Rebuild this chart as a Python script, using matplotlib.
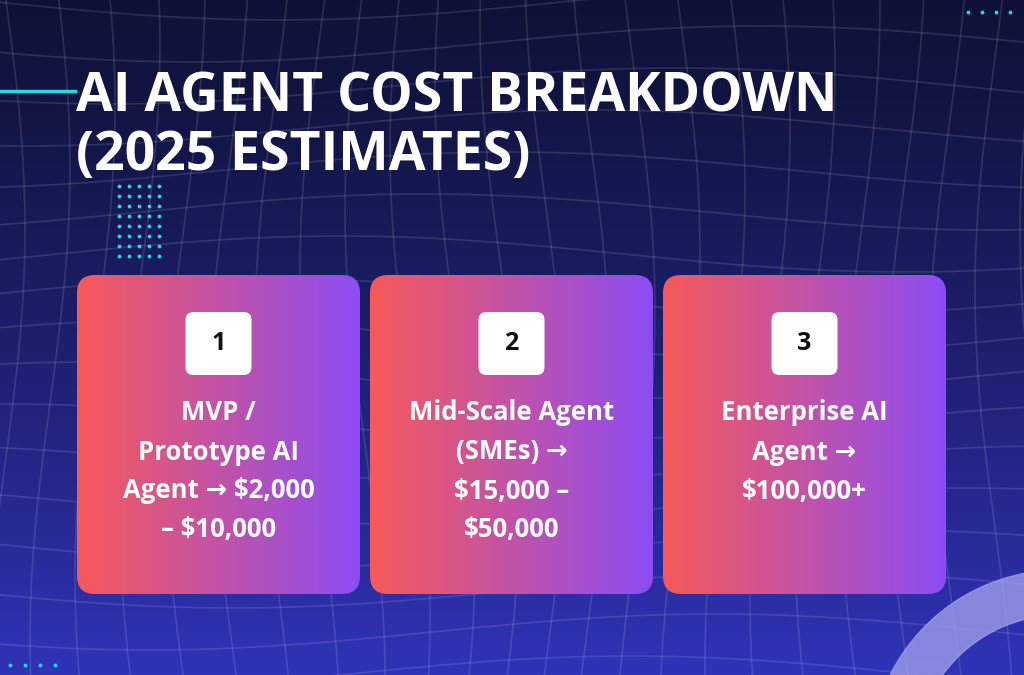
import numpy as np
import matplotlib
matplotlib.use("Agg")
import matplotlib.pyplot as plt
from matplotlib.patches import FancyBboxPatch, Wedge

title_lines = ["AI AGENT COST BREAKDOWN", "(2025 ESTIMATES)"]
card_numbers = ["1", "2", "3"]
card_texts = [
    ["MVP /", "Prototype AI", "Agent \u2192 $2,000", "\u2013 $10,000"],
    ["Mid-Scale Agent", "(SMEs) \u2192", "$15,000 \u2013", "$50,000"],
    ["Enterprise AI", "Agent \u2192", "$100,000+"],
]

W, H = 1024, 675
fig = plt.figure(figsize=(W/100, H/100), dpi=100)
ax = fig.add_axes([0, 0, 1, 1])
ax.set_xlim(0, W); ax.set_ylim(H, 0); ax.axis("off")

t = np.linspace(0, 1, 300)[:, None]
top = np.array([0.06, 0.07, 0.22]); bot = np.array([0.19, 0.20, 0.72])
bg = top + (bot - top) * (t ** 1.3)[:, :, None]
bg = np.repeat(bg, 2, axis=1)
ax.imshow(bg, extent=[0, W, H, 0], aspect="auto", zorder=0)

xs = np.linspace(0, W, 200)
for y0 in np.arange(-40, H + 60, 42):
    ys = y0 + 18*np.sin(xs/180 + y0/90)
    ax.plot(xs, ys, color="white", alpha=0.12, lw=1.2, zorder=1)
yy = np.linspace(0, H, 200)
for x0 in np.arange(-40, W + 60, 45):
    xx = x0 + 20*np.sin(yy/150 + x0/110)
    ax.plot(xx, yy, color="white", alpha=0.12, lw=1.2, zorder=1)

ax.add_patch(Wedge((1060, 760), 190, 150, 280, width=45, color="#9c9ee8", alpha=0.8, zorder=2))

ax.plot([0, 75], [91, 91], color="#19e0e8", lw=2.5, zorder=3)
dx, dy = np.meshgrid(np.arange(119, 161, 10), np.arange(186, 266, 10))
ax.scatter(dx.ravel(), dy.ravel(), s=3, color="#19e0e8", zorder=3)
ax.scatter(np.arange(968, 1012, 14), [12]*4, s=3, color="#19e0e8", zorder=3)
ax.scatter(np.arange(10, 58, 15), [665]*4, s=3, color="#19e0e8", zorder=3)

for i, line in enumerate(title_lines):
    ax.text(76, 98 + i*58, line, color="white", fontsize=38.5, fontweight="bold",
            family="Open Sans", va="center", ha="left", zorder=4)

grad = np.linspace(0, 1, 256)[None, :]
c1 = np.array([0.97, 0.35, 0.35]); c2 = np.array([0.55, 0.30, 0.96])
gimg = c1 + (c2 - c1) * grad[:, :, None]
for i, (num, lines) in enumerate(zip(card_numbers, card_texts)):
    x0 = 77 + i*293; x1 = x0 + 283; y0, y1 = 275, 594
    cx = (x0 + x1)/2
    patch = FancyBboxPatch((x0, y0), x1-x0, y1-y0, boxstyle="round,pad=0,rounding_size=18",
                           fc="none", ec="none", zorder=5)
    ax.add_patch(patch)
    im = ax.imshow(gimg, extent=[x0, x1, y1, y0], aspect="auto", zorder=5)
    im.set_clip_path(patch)
    ax.add_patch(FancyBboxPatch((cx-33, 312), 66, 63, boxstyle="round,pad=0,rounding_size=8",
                                fc="white", ec="none", zorder=6))
    ax.text(cx, 344, num, fontsize=18, fontweight="bold", color="#111111",
            ha="center", va="center", family="Open Sans", zorder=7)
    for j, ln in enumerate(lines):
        ax.text(cx, 413 + j*39, ln, fontsize=18.5, fontweight="bold", color="white",
                ha="center", va="center", family=["Open Sans", "DejaVu Sans"], zorder=7)

ax.set_xlim(0, W); ax.set_ylim(H, 0)
fig.savefig("out.png", dpi=100)
